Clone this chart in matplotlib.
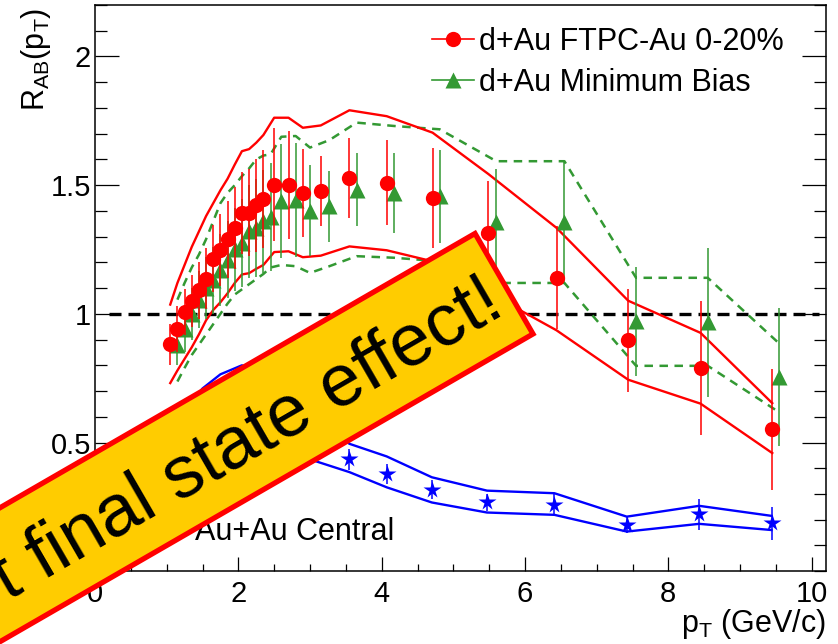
import numpy as np
import matplotlib
matplotlib.use("Agg")
import matplotlib.pyplot as plt
from matplotlib.lines import Line2D
from matplotlib.patches import Polygon

plt.rcParams['font.family'] = ['Liberation Sans', 'DejaVu Sans']
plt.rcParams['mathtext.fontset'] = 'custom'
plt.rcParams['mathtext.rm'] = 'Liberation Sans'
plt.rcParams['mathtext.it'] = 'Liberation Sans:italic'

# d+Au FTPC-Au 0-20%
red_pt = [1.05, 1.15, 1.25, 1.35, 1.45, 1.55, 1.65, 1.75, 1.85, 1.95, 2.05, 2.15, 2.25,
          2.35, 2.5, 2.7, 2.9, 3.15, 3.55, 4.07, 4.71, 5.49, 6.44, 7.44, 8.45, 9.45]
red_r = [0.881, 0.941, 1.006, 1.049, 1.091, 1.137, 1.214, 1.247, 1.289, 1.334, 1.393, 1.393, 1.421,
         1.447, 1.502, 1.500, 1.469, 1.477, 1.529, 1.509, 1.451, 1.315, 1.140, 0.897, 0.790, 0.552]
red_err = [0.08, 0.09, 0.09, 0.10, 0.11, 0.12, 0.13, 0.14, 0.15, 0.16, 0.16, 0.17, 0.18,
           0.19, 0.22, 0.21, 0.17, 0.135, 0.155, 0.165, 0.195, 0.20, 0.20, 0.20, 0.26, 0.235]
red_sys_hi = [1.036, 1.12, 1.19, 1.26, 1.32, 1.38, 1.43, 1.48, 1.525, 1.58, 1.632, 1.64, 1.665,
              1.695, 1.762, 1.762, 1.723, 1.732, 1.791, 1.768, 1.704, 1.543, 1.334, 1.051, 0.926, 0.653]
red_sys_lo = [0.731, 0.78, 0.825, 0.87, 0.92, 0.975, 1.015, 1.045, 1.08, 1.12, 1.153, 1.158, 1.175,
              1.19, 1.24, 1.243, 1.22, 1.226, 1.262, 1.247, 1.204, 1.082, 0.936, 0.744, 0.651, 0.459]

# d+Au minimum bias
mb_pt = [1.15, 1.25, 1.35, 1.45, 1.55, 1.65, 1.75, 1.85, 1.95, 2.05, 2.15, 2.25, 2.35,
         2.45, 2.6, 2.8, 3.0, 3.27, 3.65, 4.17, 4.81, 5.6, 6.55, 7.55, 8.55, 9.55]
mb_r = [0.88, 0.94, 1.0, 1.055, 1.1, 1.13, 1.17, 1.21, 1.25, 1.275, 1.32, 1.335, 1.36,
        1.375, 1.438, 1.442, 1.40, 1.418, 1.483, 1.47, 1.457, 1.356, 1.356, 0.971, 0.967, 0.754]
mb_err = [0.08, 0.09, 0.10, 0.11, 0.12, 0.13, 0.14, 0.15, 0.16, 0.17, 0.18, 0.19, 0.20,
          0.21, 0.22, 0.22, 0.177, 0.137, 0.143, 0.155, 0.18, 0.205, 0.237, 0.212, 0.289, 0.267]
mb_sys_hi = [1.055, 1.12, 1.18, 1.23, 1.29, 1.36, 1.43, 1.47, 1.50, 1.535, 1.565, 1.60, 1.615,
             1.62, 1.688, 1.691, 1.646, 1.675, 1.743, 1.730, 1.717, 1.593, 1.593, 1.14, 1.14, 0.884]
mb_sys_lo = [0.737, 0.79, 0.84, 0.88, 0.92, 0.96, 1.0, 1.04, 1.075, 1.095, 1.115, 1.135, 1.155,
             1.18, 1.19, 1.185, 1.159, 1.185, 1.224, 1.218, 1.204, 1.12, 1.12, 0.798, 0.798, 0.617]

# Au+Au central
aa_band_pt = [1.3, 1.5, 1.75, 2.05, 2.5, 3.05, 3.55, 4.07, 4.7, 5.47, 6.41, 7.42, 8.43, 9.44]
aa_band_hi = [0.64, 0.71, 0.765, 0.80, 0.75, 0.60, 0.495, 0.446, 0.365, 0.313, 0.303, 0.212, 0.254, 0.215]
aa_band_lo = [0.56, 0.63, 0.68, 0.70, 0.62, 0.43, 0.385, 0.326, 0.267, 0.228, 0.219, 0.154, 0.184, 0.160]
aa_pt = [3.55, 4.07, 4.7, 5.47, 6.41, 7.42, 8.43, 9.44]
aa_r = [0.435, 0.378, 0.316, 0.267, 0.258, 0.180, 0.221, 0.186]
aa_err = [0.04, 0.04, 0.037, 0.033, 0.042, 0.03, 0.06, 0.065]

red = '#ff0000'
green = '#339933'
blue = '#0000ff'

W, H = 838, 644
fig = plt.figure(figsize=(W / 100, H / 100), dpi=100)
ax = fig.add_axes([95 / W, 1 - 571.2 / H, 731 / W, 566.2 / H])

ax.plot([0.2, 10.1], [1, 1], color='black', lw=2.4, dashes=(3.6, 2.1), zorder=1)

ax.plot(mb_pt, mb_sys_hi, color=green, lw=1.8, dashes=(3.4, 2.6), zorder=2)
ax.plot(mb_pt, mb_sys_lo, color=green, lw=1.8, dashes=(3.4, 2.6), zorder=2)
ax.plot(red_pt, red_sys_hi, color=red, lw=1.7, zorder=2)
ax.plot(red_pt, red_sys_lo, color=red, lw=1.7, zorder=2)
ax.plot(aa_band_pt, aa_band_hi, color=blue, lw=1.7, zorder=2)
ax.plot(aa_band_pt, aa_band_lo, color=blue, lw=1.7, zorder=2)

ax.errorbar(mb_pt, mb_r, yerr=mb_err, fmt='^', color=green, ms=11, mec='none',
            elinewidth=1.1, capsize=0, zorder=3)
ax.errorbar(red_pt, red_r, yerr=red_err, fmt='o', color=red, ms=11, mec='none',
            elinewidth=1.1, capsize=0, zorder=4)
ax.errorbar(aa_pt, aa_r, yerr=aa_err, fmt='*', color=blue, ms=13, mec='none',
            elinewidth=1.1, capsize=0, zorder=4)

ax.set_xlim(0, 10.2)
ax.set_ylim(0, 2.2)
ax.set_xticks([0, 2, 4, 6, 8, 10])
ax.set_xticks(np.arange(0, 10.01, 0.5), minor=True)
ax.set_yticks([0.5, 1, 1.5, 2])
ax.set_yticklabels(['0.5', '1', '1.5', '2'])
ax.set_yticks(np.arange(0, 2.21, 0.1), minor=True)
ax.tick_params(which='both', direction='in', right=True, top=False, width=0.9,
               labelsize=21, colors='black')
ax.tick_params(axis='y', which='major', length=17, pad=3)
ax.tick_params(axis='y', which='minor', length=8.6)
ax.tick_params(axis='x', which='major', length=10, pad=6)
ax.tick_params(axis='x', which='minor', length=5)
for s in ax.spines.values():
    s.set_linewidth(1.1)

fig.text(826 / W, 1 - 632 / H, r'p$_{\mathrm{T}}$ (GeV/c)', fontsize=22,
         ha='right', va='baseline')
fig.text(36 / W, 1 - 8 / H, r'R$_{\mathrm{AB}}$(p$_{\mathrm{T}}$)', fontsize=22,
         rotation=90, ha='center', va='top')

handles = [Line2D([], [], color=red, lw=1.2, marker='o', ms=11, mec='none'),
           Line2D([], [], color=green, lw=1.2, marker='^', ms=11, mec='none')]
ax.legend(handles, ['d+Au FTPC-Au 0-20%', 'd+Au Minimum Bias'], loc='upper left',
          bbox_to_anchor=(0.4606, 0.962), frameon=False, fontsize=22,
          handlelength=1.38, handletextpad=0.18, labelspacing=0.38,
          borderpad=0, borderaxespad=0)

ax.text(1.4, 0.121, 'Au+Au Central', fontsize=22, ha='left', va='baseline')

# banner drawn over everything, in pixel coordinates
ov = fig.add_axes([0, 0, 1, 1], zorder=10)
ov.set_xlim(0, W)
ov.set_ylim(H, 0)
ov.axis('off')
ov.patch.set_alpha(0)

ang = np.deg2rad(30)
u = np.array([np.cos(ang), -np.sin(ang)])
n = np.array([np.sin(ang), np.cos(ang)])
tr = np.array([475.0, 233.5])
band_w = 116
band_len = 800
br = tr + band_w * n
ov.add_patch(Polygon([tr, br, br - band_len * u, tr - band_len * u], closed=True,
                     facecolor='#ffcc00', edgecolor=red, lw=3.8, joinstyle='miter'))
fs = 53
cap = 0.716 * fs / 72 * 100
anchor = tr + 0.5 * band_w * n - 12 * u + 0.5 * cap * n
ov.text(anchor[0], anchor[1], 't final state effect!', fontsize=fs, rotation=30,
        rotation_mode='anchor', ha='right', va='baseline', color='black')

fig.savefig('out.png', dpi=100)
